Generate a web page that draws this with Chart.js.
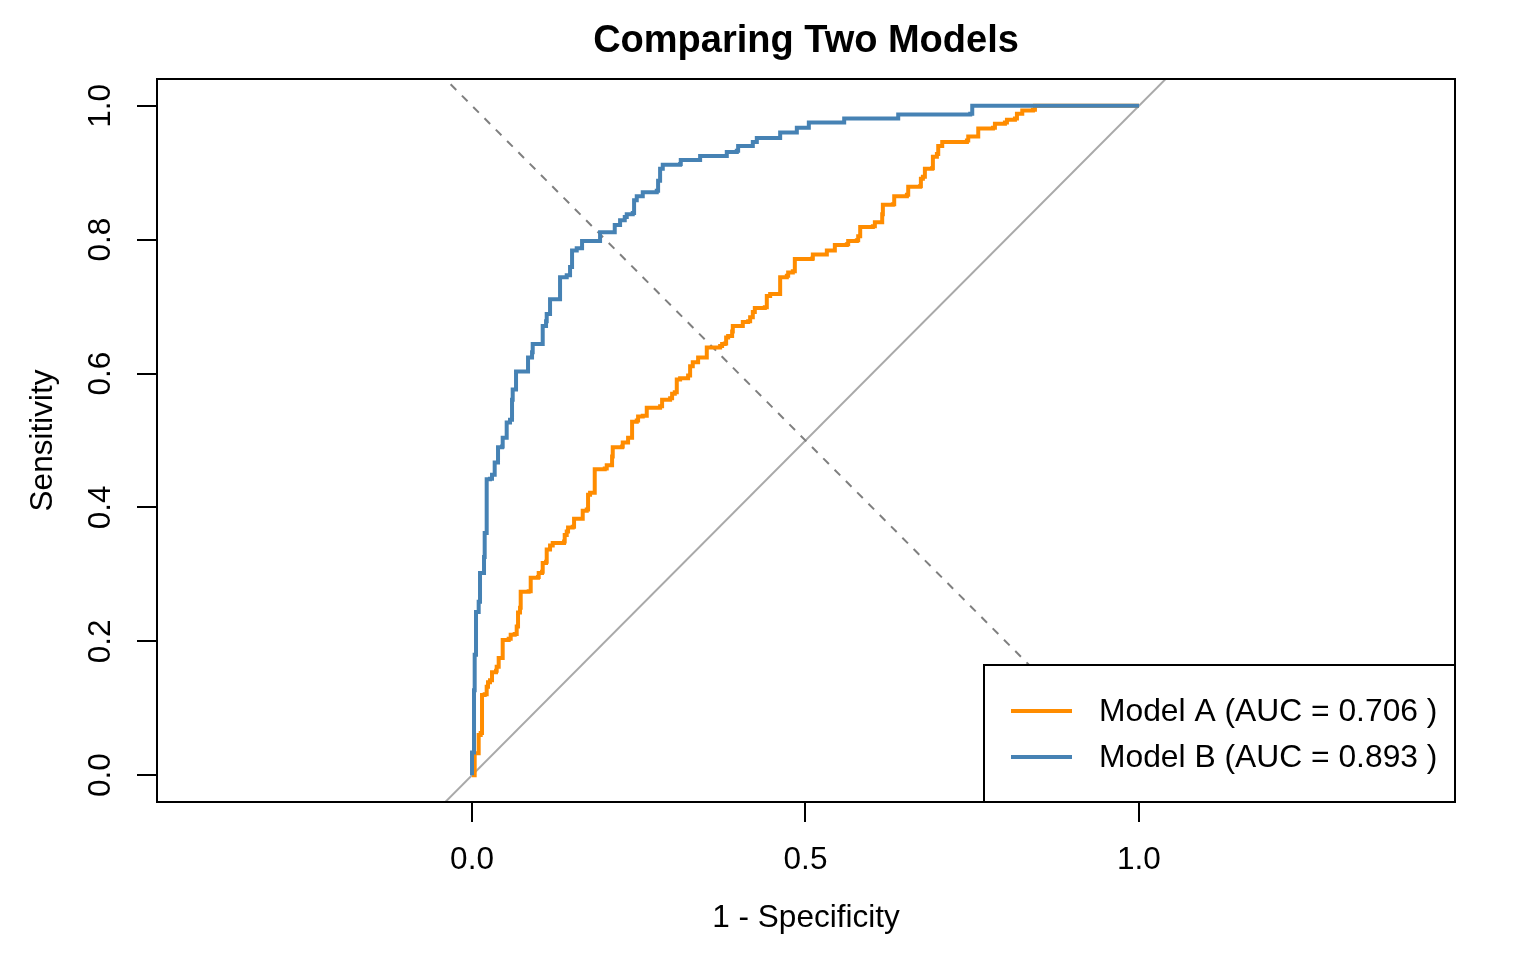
<!DOCTYPE html>
<html>
<head>
<meta charset="utf-8">
<script src="https://cdn.jsdelivr.net/npm/chart.js@4.4.1/dist/chart.umd.min.js"></script>
<style>
  html, body { margin: 0; padding: 0; background: #fff; }
  #wrap { width: 1536px; height: 960px; position: relative; }
</style>
</head>
<body>
<div id="wrap"><canvas id="chart"></canvas></div>
<script>
// ROC corner points (1 - specificity, sensitivity)
const fprA = [0, 0.004, 0.009, 0.010, 0.013, 0.015, 0.019, 0.022, 0.024, 0.027, 0.030, 0.036, 0.037, 0.040, 0.046, 0.046,
  0.055, 0.058, 0.064, 0.067, 0.069, 0.072, 0.073, 0.085, 0.088, 0.099, 0.100, 0.105, 0.106, 0.111, 0.112, 0.117,
  0.121, 0.138, 0.139, 0.142, 0.144, 0.151, 0.153, 0.166, 0.166, 0.172, 0.174, 0.177, 0.183, 0.184, 0.199, 0.202,
  0.208, 0.210, 0.211, 0.225, 0.226, 0.232, 0.234, 0.240, 0.247, 0.249, 0.256, 0.262, 0.282, 0.285, 0.297, 0.300,
  0.304, 0.307, 0.312, 0.324, 0.327, 0.331, 0.337, 0.339, 0.352, 0.352, 0.367, 0.372, 0.375, 0.379, 0.381, 0.384,
  0.390, 0.391, 0.405, 0.406, 0.414, 0.417, 0.421, 0.424, 0.439, 0.442, 0.447, 0.462, 0.462, 0.472, 0.474, 0.481,
  0.484, 0.510, 0.511, 0.532, 0.532, 0.544, 0.544, 0.562, 0.564, 0.577, 0.579, 0.582, 0.601, 0.604, 0.612, 0.615,
  0.616, 0.631, 0.633, 0.652, 0.654, 0.672, 0.673, 0.676, 0.679, 0.690, 0.691, 0.697, 0.699, 0.705, 0.742, 0.744,
  0.757, 0.759, 0.781, 0.784, 0.799, 0.802, 0.814, 0.817, 0.825, 0.841, 0.844, 1.0];
const tprA = [0, 0.033, 0.033, 0.060, 0.063, 0.120, 0.121, 0.132, 0.139, 0.142, 0.154, 0.156, 0.162, 0.175, 0.177, 0.202,
  0.204, 0.210, 0.211, 0.222, 0.243, 0.250, 0.274, 0.275, 0.295, 0.296, 0.302, 0.304, 0.317, 0.319, 0.337, 0.343,
  0.347, 0.349, 0.359, 0.364, 0.370, 0.371, 0.383, 0.383, 0.395, 0.397, 0.419, 0.422, 0.422, 0.457, 0.458, 0.463,
  0.463, 0.476, 0.490, 0.491, 0.497, 0.497, 0.504, 0.528, 0.530, 0.536, 0.537, 0.549, 0.551, 0.561, 0.563, 0.570,
  0.572, 0.591, 0.593, 0.597, 0.611, 0.617, 0.617, 0.624, 0.624, 0.639, 0.639, 0.641, 0.644, 0.645, 0.654, 0.656,
  0.663, 0.671, 0.671, 0.677, 0.678, 0.684, 0.692, 0.698, 0.699, 0.716, 0.719, 0.725, 0.744, 0.746, 0.751, 0.753,
  0.771, 0.772, 0.778, 0.780, 0.784, 0.786, 0.792, 0.793, 0.798, 0.799, 0.805, 0.819, 0.820, 0.826, 0.826, 0.838,
  0.852, 0.853, 0.865, 0.867, 0.879, 0.880, 0.891, 0.894, 0.906, 0.907, 0.924, 0.928, 0.940, 0.946, 0.948, 0.954,
  0.954, 0.966, 0.967, 0.973, 0.975, 0.979, 0.981, 0.988, 0.993, 0.994, 1.0, 1.0];

const fprB = [0, 0, 0.003, 0.003, 0.004, 0.006, 0.010, 0.012, 0.016, 0.018, 0.019, 0.022, 0.027, 0.030, 0.034, 0.039,
  0.045, 0.046, 0.052, 0.057, 0.060, 0.061, 0.066, 0.082, 0.084, 0.090, 0.091, 0.105, 0.106, 0.111, 0.112, 0.117,
  0.117, 0.129, 0.132, 0.142, 0.147, 0.150, 0.157, 0.165, 0.192, 0.192, 0.211, 0.214, 0.222, 0.229, 0.232, 0.241,
  0.243, 0.247, 0.256, 0.277, 0.279, 0.282, 0.286, 0.312, 0.313, 0.342, 0.342, 0.382, 0.382, 0.397, 0.399, 0.420,
  0.421, 0.427, 0.462, 0.462, 0.487, 0.487, 0.504, 0.505, 0.556, 0.558, 0.637, 0.639, 0.747, 0.750, 1.0];
const tprB = [0, 0.034, 0.037, 0.127, 0.180, 0.244, 0.259, 0.302, 0.302, 0.326, 0.362, 0.442, 0.443, 0.449, 0.467, 0.490,
  0.491, 0.504, 0.527, 0.531, 0.561, 0.576, 0.603, 0.603, 0.624, 0.632, 0.644, 0.644, 0.671, 0.678, 0.689, 0.692,
  0.711, 0.711, 0.744, 0.747, 0.759, 0.784, 0.787, 0.798, 0.799, 0.811, 0.811, 0.822, 0.829, 0.834, 0.838, 0.840,
  0.859, 0.865, 0.871, 0.873, 0.888, 0.906, 0.912, 0.913, 0.919, 0.921, 0.925, 0.927, 0.931, 0.933, 0.940, 0.940,
  0.946, 0.952, 0.954, 0.960, 0.961, 0.967, 0.967, 0.975, 0.975, 0.981, 0.981, 0.987, 0.988, 1.0, 1.0];

const seriesNames = ["Model A (AUC = 0.706 )", "Model B (AUC = 0.893 )"];
const xTicks = [0, 0.5, 1];
const yTicks = [0, 0.2, 0.4, 0.6, 0.8, 1];
const xRange = [-0.4723, 1.4738];
const yRange = [-0.04, 1.04];

const FONT = "'Liberation Sans', Arial, Helvetica, sans-serif";

function toPoints(xs, ys) {
  const pts = [];
  for (let i = 0; i < xs.length; i++) {
    pts.push({ x: xs[i], y: ys[i] });
  }
  return pts;
}

// title, box, legend and rotated y labels, like base R graphics
const rBoxPlugin = {
  id: "rBox",
  afterDatasetsDraw(chart) {
    const ctx = chart.ctx;
    const area = chart.chartArea;
    const yScale = chart.scales.y;
    ctx.save();

    // title centred over the plot region
    ctx.fillStyle = "#000";
    ctx.font = "bold 38px " + FONT;
    ctx.textAlign = "center";
    ctx.textBaseline = "middle";
    ctx.fillText("Comparing Two Models", (area.left + area.right) / 2, 42);

    // legend in the bottom-right corner
    const lx = 984, ly = 665;
    ctx.fillStyle = "#fff";
    ctx.fillRect(lx, ly, area.right - lx, area.bottom - ly);
    ctx.strokeStyle = "#000";
    ctx.lineWidth = 2;
    ctx.strokeRect(lx, ly, area.right - lx, area.bottom - ly);
    ctx.font = "31.8px " + FONT;
    ctx.textBaseline = "middle";
    ctx.textAlign = "left";
    const legendSets = [chart.data.datasets[1], chart.data.datasets[0]];
    legendSets.forEach((ds, i) => {
      const yy = 711 + i * 46;
      ctx.strokeStyle = ds.borderColor;
      ctx.lineWidth = 4;
      ctx.beginPath();
      ctx.moveTo(1011, yy);
      ctx.lineTo(1072, yy);
      ctx.stroke();
      ctx.fillStyle = "#000";
      ctx.fillText(ds.label, 1099, yy + 1);
    });

    // plot frame
    ctx.strokeStyle = "#000";
    ctx.lineWidth = 2;
    ctx.strokeRect(area.left, area.top, area.right - area.left, area.bottom - area.top);

    // y tick labels, rotated as in R
    ctx.fillStyle = "#000";
    ctx.font = "31.5px " + FONT;
    ctx.textAlign = "center";
    ctx.textBaseline = "middle";
    yScale.ticks.forEach(t => {
      const py = yScale.getPixelForValue(t.value);
      ctx.save();
      ctx.translate(101, py);
      ctx.rotate(-Math.PI / 2);
      ctx.fillText(t.value.toFixed(1), 0, 0);
      ctx.restore();
    });
    ctx.restore();
  }
};

const chart = new Chart(document.getElementById("chart"), {
  type: "scatter",
  data: {
    datasets: [
      {
        label: seriesNames[1],
        data: toPoints(fprB, tprB),
        borderColor: "#4682B4",
        borderWidth: 4,
        showLine: true,
        stepped: true,
        pointRadius: 0
      },
      {
        label: seriesNames[0],
        data: toPoints(fprA, tprA),
        borderColor: "#FF8C00",
        borderWidth: 4,
        showLine: true,
        stepped: true,
        pointRadius: 0
      },
      {
        label: "diag2",
        data: [{ x: xRange[0], y: 1 - xRange[0] }, { x: xRange[1], y: 1 - xRange[1] }],
        borderColor: "#7f7f7f",
        borderWidth: 2,
        borderDash: [8, 8],
        showLine: true,
        pointRadius: 0
      },
      {
        label: "diag",
        data: [{ x: xRange[0], y: xRange[0] }, { x: xRange[1], y: xRange[1] }],
        borderColor: "#a9a9a9",
        borderWidth: 2,
        showLine: true,
        pointRadius: 0
      }
    ]
  },
  options: {
    responsive: true,
    maintainAspectRatio: false,
    animation: false,
    devicePixelRatio: 1,
    layout: { padding: { left: 0, right: 81, top: 79, bottom: 0 } },
    plugins: {
      legend: { display: false },
      tooltip: { enabled: false },
      title: { display: false }
    },
    scales: {
      x: {
        type: "linear",
        min: xRange[0],
        max: xRange[1],
        afterBuildTicks: scale => { scale.ticks = xTicks.map(v => ({ value: v })); },
        afterFit: scale => { scale.height = 158; },
        border: { display: false },
        grid: { drawOnChartArea: false, drawTicks: true, tickLength: 20, color: "#000", lineWidth: 2 },
        ticks: {
          color: "#000",
          padding: 19,
          font: { family: FONT, size: 31.5 },
          maxRotation: 0,
          callback: v => Number(v).toFixed(1)
        },
        title: {
          display: true,
          text: "1 - Specificity",
          color: "#000",
          font: { family: FONT, size: 31.5 },
          padding: { top: 0, bottom: 23 }
        }
      },
      y: {
        type: "linear",
        min: yRange[0],
        max: yRange[1],
        afterBuildTicks: scale => { scale.ticks = yTicks.map(v => ({ value: v })); },
        afterFit: scale => { scale.width = 157; },
        border: { display: false },
        grid: { drawOnChartArea: false, drawTicks: true, tickLength: 20, color: "#000", lineWidth: 2 },
        ticks: { display: false },
        title: {
          display: true,
          text: "Sensitivity",
          color: "#000",
          font: { family: FONT, size: 31.5 },
          padding: { top: 24, bottom: 0 }
        }
      }
    }
  },
  plugins: [rBoxPlugin]
});
</script>
</body>
</html>
